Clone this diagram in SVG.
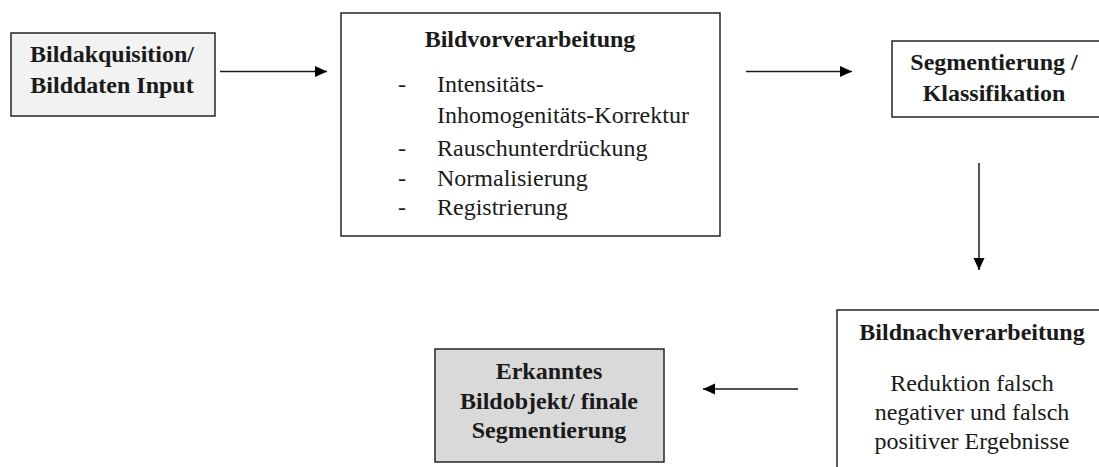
<svg xmlns="http://www.w3.org/2000/svg" width="1099" height="467" viewBox="0 0 1099 467">
<style>
.box{stroke:#262626;stroke-width:1.5;fill:#ffffff}
.b{font-family:"Liberation Serif","Times New Roman",serif;font-size:24px;font-weight:bold;fill:#1a1a1a;text-anchor:middle}
.r{font-family:"Liberation Serif","Times New Roman",serif;font-size:24px;fill:#1a1a1a}
.c{text-anchor:middle}
.conn{stroke:#1a1a1a;stroke-width:1.5;fill:none}
</style>
<defs>
<marker id="ah" viewBox="0 0 12 12" refX="12" refY="6" markerWidth="12" markerHeight="12" markerUnits="userSpaceOnUse" orient="auto">
<path d="M0,0.5 L12,6 L0,11.5 z" fill="#000000"/>
</marker>
</defs>
<g id="node-input">
<rect class="box" x="11" y="33" width="204" height="83" style="fill:#f2f2f2"/>
<text class="b" x="112" y="62">Bildakquisition/</text>
<text class="b" x="112" y="93">Bilddaten Input</text>
</g>
<g id="node-vorverarbeitung">
<rect class="box" x="341" y="13" width="379" height="223"/>
<text class="b" x="530" y="47">Bildvorverarbeitung</text>
<text class="r" x="398" y="92">-</text>
<text class="r" x="437" y="92">Intensitäts-</text>
<text class="r" x="437" y="123">Inhomogenitäts-Korrektur</text>
<text class="r" x="398" y="156">-</text>
<text class="r" x="437" y="156">Rauschunterdrückung</text>
<text class="r" x="398" y="186">-</text>
<text class="r" x="437" y="186">Normalisierung</text>
<text class="r" x="398" y="215">-</text>
<text class="r" x="437" y="215">Registrierung</text>
</g>
<g id="node-segmentierung">
<rect class="box" x="892" y="41" width="220" height="76"/>
<text class="b" x="994" y="70">Segmentierung /</text>
<text class="b" x="994" y="101">Klassifikation</text>
</g>
<g id="node-nachverarbeitung">
<rect class="box" x="837" y="310" width="275" height="170"/>
<text class="b" x="972" y="340">Bildnachverarbeitung</text>
<text class="r c" x="972" y="391">Reduktion falsch</text>
<text class="r c" x="972" y="420">negativer und falsch</text>
<text class="r c" x="972" y="449">positiver Ergebnisse</text>
</g>
<g id="node-ergebnis">
<rect class="box" x="435" y="349" width="229" height="113" style="fill:#d9d9d9"/>
<text class="b" x="549" y="379">Erkanntes</text>
<text class="b" x="549" y="409">Bildobjekt/ finale</text>
<text class="b" x="549" y="438">Segmentierung</text>
</g>
<g id="connectors">
<line class="conn" x1="220" y1="71.5" x2="327" y2="71.5" marker-end="url(#ah)"/>
<line class="conn" x1="746" y1="71.5" x2="852" y2="71.5" marker-end="url(#ah)"/>
<line class="conn" x1="979" y1="163" x2="979" y2="270" marker-end="url(#ah)"/>
<line class="conn" x1="798" y1="389" x2="703" y2="389" marker-end="url(#ah)"/>
</g>
</svg>
